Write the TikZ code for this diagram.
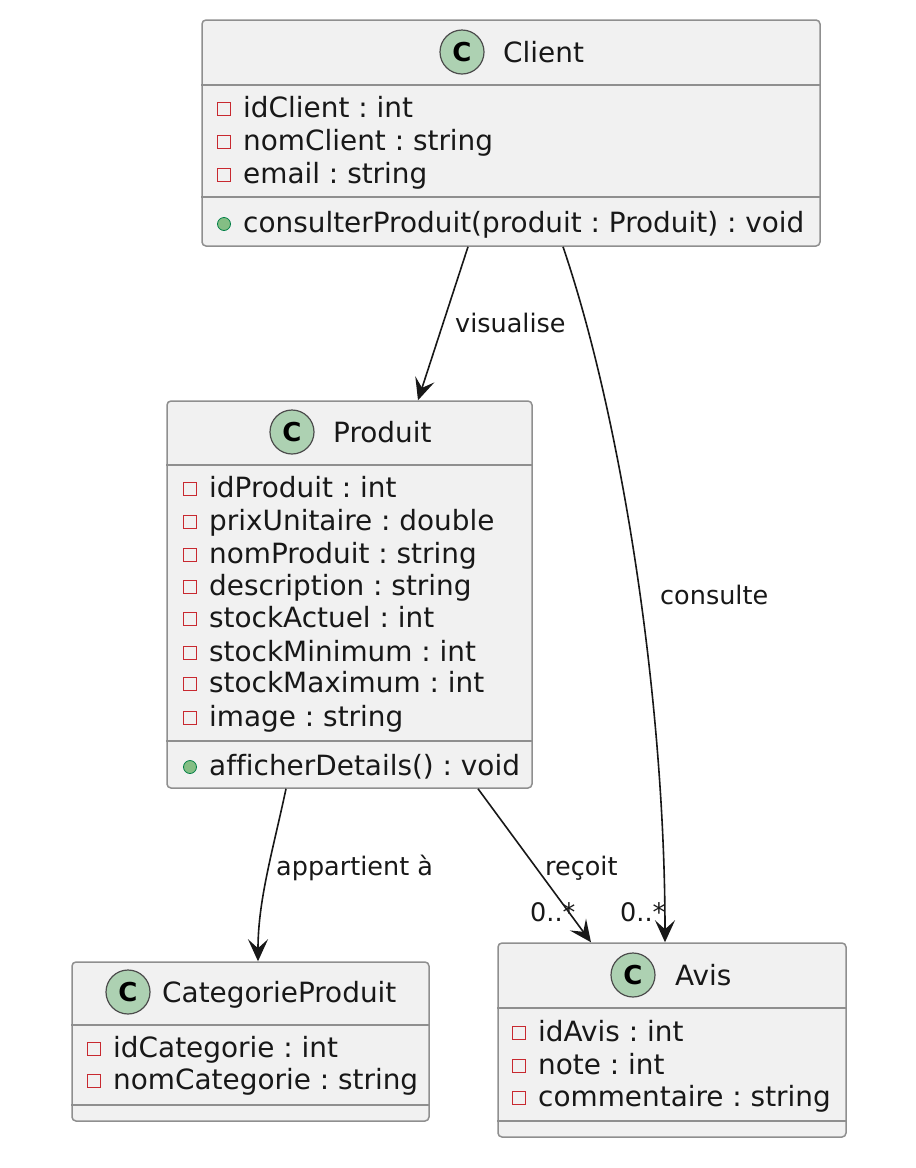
\documentclass[tikz,border=0pt]{standalone}
\usepackage{fontspec}
\setmainfont{DejaVu Sans}[Ligatures=NoCommon]
\usetikzlibrary{arrows.meta,calc}
\definecolor{boxfill}{HTML}{F1F1F1}
\definecolor{boxline}{HTML}{8F8F8F}
\definecolor{ink}{HTML}{181818}
\definecolor{iconfill}{HTML}{ADD1B2}
\definecolor{privred}{HTML}{C82930}
\definecolor{pubfill}{HTML}{84BE84}
\definecolor{publine}{HTML}{038048}
\newcommand{\umlpriv}[4]{\node[privbox] (#1m) at (#2,#3) {}; \node[member] (#1) at (#2+19,#3) {#4};}
\newcommand{\umlpub}[4]{\node[pubdot] (#1m) at (#2,#3) {}; \node[member] (#1) at (#2+19,#3) {#4};}
\frenchspacing
\begin{document}
\begin{tikzpicture}[x=1pt,y=-1pt,
  classbox/.style={draw=boxline, fill=boxfill, line width=1.5pt, rounded corners=4pt, inner sep=0pt},
  sepline/.style={draw=boxline, line width=1.5pt},
  cicon/.style={circle, draw=black!70, line width=1.2pt, fill=iconfill, minimum size=44pt, inner sep=0pt, font=\fontsize{26}{26}\selectfont\bfseries},
  ctitle/.style={anchor=mid west, inner sep=0pt, yshift=-5pt, text=ink, font=\fontsize{27.9}{32}\selectfont},
  member/.style={anchor=mid west, inner sep=0pt, yshift=-6pt, text=ink, font=\fontsize{27.9}{32}\selectfont},
  privbox/.style={draw=privred, line width=1.3pt, minimum size=13pt, inner sep=0pt, fill=boxfill},
  pubdot/.style={circle, draw=publine, fill=pubfill, line width=0.8pt, minimum size=13pt, inner sep=0pt},
  lbl/.style={anchor=mid west, inner sep=0pt, yshift=-5pt, text=ink, font=\fontsize{25.5}{30}\selectfont},
  assoc/.style={draw=ink, line width=1.6pt, -{Stealth[length=22pt,width=20pt,inset=9pt]}},
]
\fill[white] (0,0) rectangle (916,1168);
\useasboundingbox (0,0) rectangle (916,1168);

% ---------- Client ----------
\node[classbox, minimum width=618pt, minimum height=226pt] (client) at (511,133) {};
\draw[sepline] (client.west |- 0,85) -- (client.east |- 0,85);
\draw[sepline] (client.west |- 0,197) -- (client.east |- 0,197);
\node[cicon] (clienticon) at (462,52) {C};
\node[ctitle] (clienttitle) at (503,54.5) {Client};
\umlpriv{cA}{224}{109}{idClient : int}
\umlpriv{cB}{224}{142}{nomClient : string}
\umlpriv{cC}{224}{175}{email : string}
\umlpub{cD}{224}{224}{consulterProduit(produit : Produit) : void}

% ---------- Produit ----------
\node[classbox, minimum width=365pt, minimum height=387pt] (produit) at (349.5,594.5) {};
\draw[sepline] (produit.west |- 0,465) -- (produit.east |- 0,465);
\draw[sepline] (produit.west |- 0,741) -- (produit.east |- 0,741);
\node[cicon] (produiticon) at (292,432) {C};
\node[ctitle] (produittitle) at (333,434.5) {Produit};
\umlpriv{pA}{190}{489}{idProduit : int}
\umlpriv{pB}{190}{522}{prixUnitaire : double}
\umlpriv{pC}{190}{555}{nomProduit : string}
\umlpriv{pD}{190}{587}{description : string}
\umlpriv{pE}{190}{619}{stockActuel : int}
\umlpriv{pF}{190}{653}{stockMinimum : int}
\umlpriv{pG}{190}{684}{stockMaximum : int}
\umlpriv{pH}{190}{718}{image : string}
\umlpub{pI}{190}{767}{afficherDetails() : void}

% ---------- CategorieProduit ----------
\node[classbox, minimum width=357pt, minimum height=159pt] (categorie) at (250.5,1041.5) {};
\draw[sepline] (categorie.west |- 0,1025) -- (categorie.east |- 0,1025);
\draw[sepline] (categorie.west |- 0,1105) -- (categorie.east |- 0,1105);
\node[cicon] (categorieicon) at (128,992) {C};
\node[ctitle] (categorietitle) at (162,994.5) {CategorieProduit};
\umlpriv{kA}{94}{1049}{idCategorie : int}
\umlpriv{kB}{94}{1081}{nomCategorie : string}

% ---------- Avis ----------
\node[classbox, minimum width=348pt, minimum height=194pt] (avis) at (672,1040) {};
\draw[sepline] (avis.west |- 0,1008) -- (avis.east |- 0,1008);
\draw[sepline] (avis.west |- 0,1121) -- (avis.east |- 0,1121);
\node[cicon] (avisicon) at (633,975) {C};
\node[ctitle] (avistitle) at (675,977.5) {Avis};
\umlpriv{aA}{519}{1033}{idAvis : int}
\umlpriv{aB}{519}{1066}{note : int}
\umlpriv{aC}{519}{1098}{commentaire : string}

% ---------- Associations ----------
\draw[assoc] ([xshift=-43pt]client.south) -- ([xshift=68.5pt]produit.north);
\node[lbl] (lvisualise) at (455,325) {visualise};

\draw[assoc] ([xshift=52pt]client.south) .. controls (622,420) and (665,700) .. ([xshift=-7pt]avis.north);
\node[lbl] (lconsulte) at (660,597) {consulte};

\draw[assoc] ([xshift=-63.5pt]produit.south) .. controls (273,850) and (258,900) .. ([xshift=7.5pt]categorie.north);
\node[lbl] (lappartient) at (276,868) {appartient à};

\draw[assoc] ([xshift=128.5pt]produit.south) -- ([xshift=-81pt]avis.north);
\node[lbl] (lrecoit) at (545,868) {reçoit};
\node[lbl] (mrecoit) at (530,914) {0..*};
\node[lbl] (mconsulte) at (620,914) {0..*};
\end{tikzpicture}
\end{document}
